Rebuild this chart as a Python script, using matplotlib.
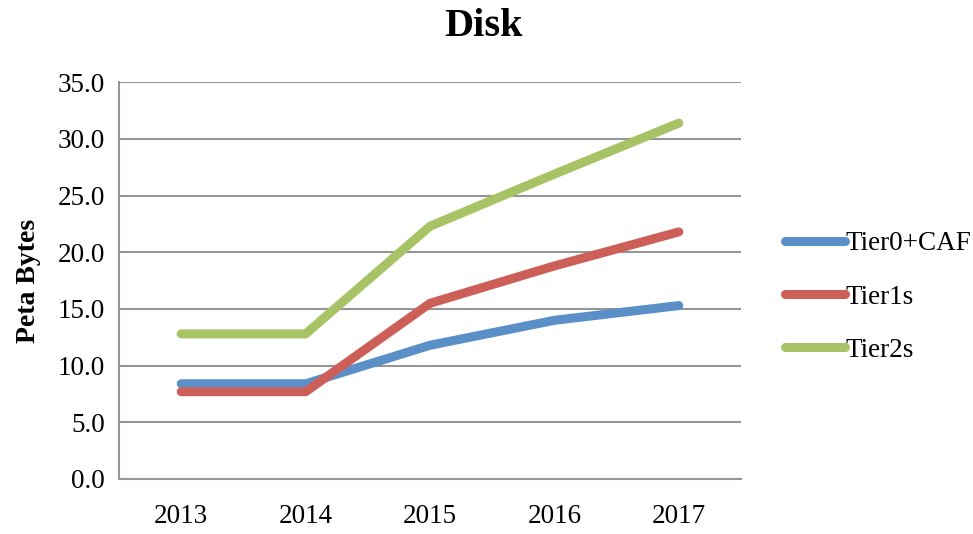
import matplotlib
matplotlib.use("Agg")
import matplotlib.pyplot as plt
from matplotlib.ticker import FormatStrFormatter

# dati (Peta Bytes)
years = ["2013", "2014", "2015", "2016", "2017"]
tier0_caf = [8.4, 8.4, 11.8, 14.0, 15.3]
tier1s = [7.7, 7.7, 15.5, 18.8, 21.8]
tier2s = [12.8, 12.8, 22.3, 26.9, 31.4]
series_names = ["Tier0+CAF", "Tier1s", "Tier2s"]
y_ticks = [0, 5, 10, 15, 20, 25, 30, 35]

plt.rcParams['font.family'] = ['Liberation Serif', 'DejaVu Serif']

fig = plt.figure(figsize=(9.73, 5.34), dpi=100)
ax = fig.add_axes([0.1223, 0.103, 0.6393, 0.7429])

x = list(range(len(years)))
colori = ['#5A8FC8', '#CC5F57', '#A8C266']
for vals, name, c in zip([tier0_caf, tier1s, tier2s], series_names, colori):
    ax.plot(x, vals, color=c, lw=6.5, solid_capstyle='round',
            solid_joinstyle='round', label=name, zorder=3)

# assi
ax.set_xlim(-0.5, len(years) - 0.5)
ax.set_ylim(0, 35)
ax.set_xticks(x)
ax.set_xticklabels(years)
ax.set_yticks(y_ticks)
ax.yaxis.set_major_formatter(FormatStrFormatter('%.1f'))
ax.tick_params(axis='both', length=0, labelsize=19.5)
ax.tick_params(axis='x', pad=18)
ax.tick_params(axis='y', pad=10)
ax.grid(axis='y', color='#969696', lw=1.5, zorder=1)
for s in ['top', 'right']:
    ax.spines[s].set_visible(False)
for s in ['left', 'bottom']:
    ax.spines[s].set_color('#969696')
    ax.spines[s].set_linewidth(1.5)

ax.set_ylabel("Peta Bytes", fontsize=20, fontweight='bold', labelpad=12)
fig.suptitle("Disk", fontsize=29, fontweight='bold', x=0.497, y=0.985, va='top')

leg = ax.legend(loc='center left', bbox_to_anchor=(785 / 973, 1 - 297 / 534),
                bbox_transform=fig.transFigure, frameon=False, fontsize=19.5,
                handlelength=2.2, handletextpad=0.02, labelspacing=1.05,
                borderpad=0, borderaxespad=0)

plt.savefig("out.png", dpi=100)
plt.close(fig)
